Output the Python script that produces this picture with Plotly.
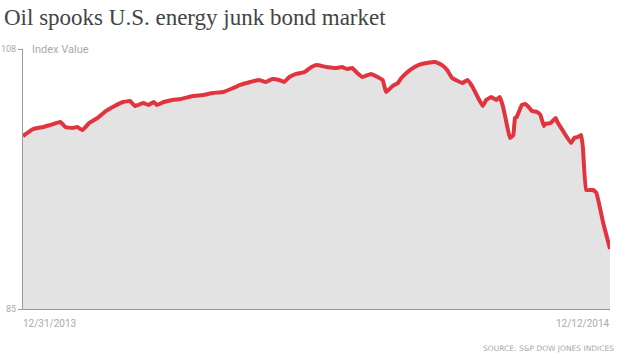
import plotly.graph_objects as go

title_text = "Oil spooks U.S. energy junk bond market"
y_label = "Index Value"
source_text = "SOURCE: S&P DOW JONES INDICES"
start_label = "12/31/2013"
end_label = "12/12/2014"

dates = [
    "2013-12-31", "2014-01-06", "2014-01-12", "2014-01-16", "2014-01-22", "2014-01-25",
    "2014-01-29", "2014-02-01", "2014-02-04", "2014-02-08", "2014-02-13", "2014-02-18",
    "2014-02-23", "2014-02-28", "2014-03-04", "2014-03-07", "2014-03-12", "2014-03-15",
    "2014-03-18", "2014-03-20", "2014-03-24", "2014-03-29", "2014-04-03", "2014-04-10",
    "2014-04-16", "2014-04-22", "2014-04-28", "2014-05-04", "2014-05-08", "2014-05-14",
    "2014-05-19", "2014-05-23", "2014-05-27", "2014-05-31", "2014-06-03", "2014-06-06",
    "2014-06-10", "2014-06-15", "2014-06-19", "2014-06-22", "2014-06-28", "2014-07-04",
    "2014-07-07", "2014-07-10", "2014-07-13", "2014-07-16", "2014-07-19", "2014-07-24",
    "2014-07-28", "2014-07-31", "2014-08-02", "2014-08-04", "2014-08-06", "2014-08-09",
    "2014-08-11", "2014-08-16", "2014-08-21", "2014-08-26", "2014-08-31", "2014-09-04",
    "2014-09-07", "2014-09-10", "2014-09-16", "2014-09-19", "2014-09-22", "2014-09-25",
    "2014-09-28", "2014-09-30", "2014-10-03", "2014-10-06", "2014-10-08", "2014-10-10",
    "2014-10-12", "2014-10-14", "2014-10-16", "2014-10-17", "2014-10-18", "2014-10-21",
    "2014-10-23", "2014-10-25", "2014-10-27", "2014-10-30", "2014-11-01", "2014-11-03",
    "2014-11-04", "2014-11-07", "2014-11-10", "2014-11-11", "2014-11-14", "2014-11-19",
    "2014-11-21", "2014-11-23", "2014-11-25", "2014-11-26", "2014-11-28", "2014-12-02",
    "2014-12-04", "2014-12-08", "2014-12-12",
]

index_values = [
    100.30, 100.92, 101.10, 101.28, 101.54, 101.10,
    101.01, 101.10, 100.83, 101.45, 101.90, 102.52,
    102.96, 103.31, 103.40, 102.96, 103.22, 103.05,
    103.31, 103.05, 103.31, 103.49, 103.58, 103.84,
    103.93, 104.11, 104.20, 104.55, 104.82, 105.08,
    105.26, 105.08, 105.35, 105.26, 105.08, 105.52,
    105.79, 105.97, 106.41, 106.58, 106.41, 106.32,
    106.41, 106.23, 106.32, 105.88, 105.52, 105.79,
    105.52, 105.26, 104.20, 104.46, 104.73, 104.99,
    105.43, 106.14, 106.58, 106.76, 106.85, 106.58,
    106.14, 105.43, 104.99, 105.26, 104.64, 103.75,
    102.96, 103.49, 103.75, 103.49, 103.75, 102.87,
    101.45, 100.13, 100.39, 101.90, 101.98, 103.05,
    103.13, 102.87, 102.52, 102.43, 102.16, 101.19,
    101.37, 101.45, 101.90, 101.54, 100.83, 99.68,
    100.13, 100.22, 100.39, 99.33, 95.53, 95.53,
    95.26, 92.61, 90.31,
]

y_ticks = [85, 108]

fig = go.Figure()
fig.add_trace(go.Scatter(
    x=dates, y=index_values, mode="lines",
    line=dict(color="#e2343f", width=4, shape="spline", smoothing=0.3),
    fill="tozeroy", fillcolor="#e3e3e3",
    hoverinfo="skip",
))

narrow = "Liberation Sans Narrow, Roboto, Arial"

fig.update_layout(
    width=620, height=355,
    margin=dict(l=23, r=10, t=49, b=46, autoexpand=False),
    paper_bgcolor="white", plot_bgcolor="white",
    showlegend=False,
    xaxis=dict(
        range=[dates[0], dates[-1]], showgrid=False, zeroline=False,
        showline=True, linecolor="#999999", linewidth=1,
        showticklabels=False, ticks="", automargin=False,
    ),
    yaxis=dict(
        range=[y_ticks[0], y_ticks[-1]], tickvals=y_ticks,
        showgrid=False, zeroline=False, automargin=False,
        showline=True, linecolor="#999999", linewidth=1,
        ticks="outside", ticklen=4, tickcolor="#999999",
        tickfont=dict(family=narrow, size=9, color="#aaaaaa"),
    ),
    annotations=[
        dict(text=title_text, xref="paper", yref="paper", x=-21/587, y=1 + 32/260,
             xanchor="left", yanchor="middle", showarrow=False,
             font=dict(family="Liberation Serif, DejaVu Serif, serif", size=23, color="#444444")),
        dict(text=y_label, xref="paper", yref="paper", x=7/587, y=1.0,
             xanchor="left", yanchor="middle", showarrow=False,
             font=dict(family=narrow, size=11, color="#aaaaaa")),
        dict(text=start_label, xref="paper", yref="paper", x=-2/587, y=-14/260,
             xanchor="left", yanchor="middle", showarrow=False,
             font=dict(family=narrow, size=10, color="#aaaaaa")),
        dict(text=end_label, xref="paper", yref="paper", x=1 + 2/587, y=-14/260,
             xanchor="right", yanchor="middle", showarrow=False,
             font=dict(family=narrow, size=10, color="#aaaaaa")),
        dict(text=source_text, xref="paper", yref="paper", x=1 + 6/587, y=-39/260,
             xanchor="right", yanchor="middle", showarrow=False,
             font=dict(family="DejaVu Sans, Arial", size=7.5, color="#aaaaaa")),
    ],
)

fig.write_html("out.html")
